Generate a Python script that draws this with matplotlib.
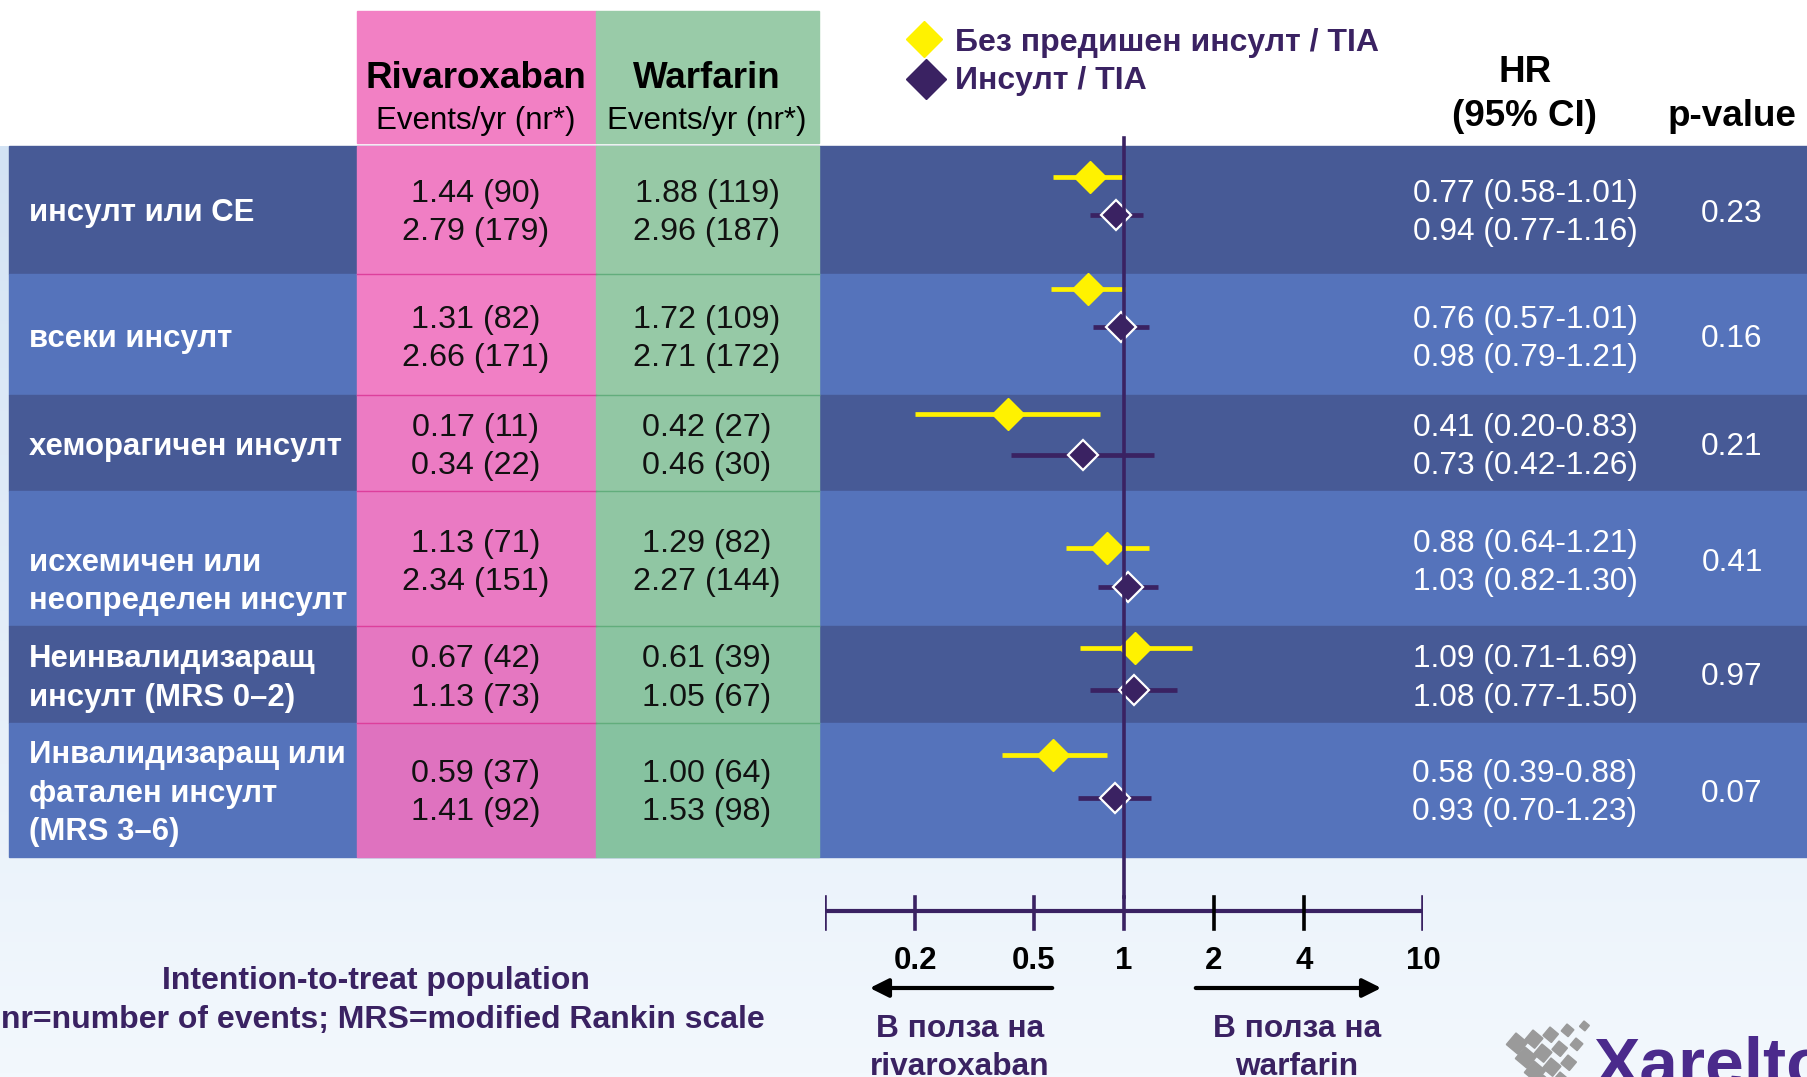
import numpy as np
import matplotlib.pyplot as plt
import matplotlib.colors as mcolors
from matplotlib.patches import Rectangle

plt.rcParams['font.family'] = ['Liberation Sans', 'DejaVu Sans']

# outcomes (table rows)
outcomes = [
    ['инсулт или СЕ'],
    ['всеки инсулт'],
    ['хеморагичен инсулт'],
    ['исхемичен или', 'неопределен инсулт'],
    ['Неинвалидизаращ', 'инсулт (MRS 0–2)'],
    ['Инвалидизаращ или', 'фатален инсулт', '(MRS 3–6)'],
]

# events/yr and number of events, no prior stroke / prior stroke
riva_rate_no = [1.44, 1.31, 0.17, 1.13, 0.67, 0.59]
riva_n_no = [90, 82, 11, 71, 42, 37]
riva_rate_prior = [2.79, 2.66, 0.34, 2.34, 1.13, 1.41]
riva_n_prior = [179, 171, 22, 151, 73, 92]
warf_rate_no = [1.88, 1.72, 0.42, 1.29, 0.61, 1.00]
warf_n_no = [119, 109, 27, 82, 39, 64]
warf_rate_prior = [2.96, 2.71, 0.46, 2.27, 1.05, 1.53]
warf_n_prior = [187, 172, 30, 144, 67, 98]

# hazard ratios with 95% CI
hr_no = [0.77, 0.76, 0.41, 0.88, 1.09, 0.58]
lo_no = [0.58, 0.57, 0.20, 0.64, 0.71, 0.39]
hi_no = [1.01, 1.01, 0.83, 1.21, 1.69, 0.88]
hr_prior = [0.94, 0.98, 0.73, 1.03, 1.08, 0.93]
lo_prior = [0.77, 0.79, 0.42, 0.82, 0.77, 0.70]
hi_prior = [1.16, 1.21, 1.26, 1.30, 1.50, 1.23]
p_values = ['0.23', '0.16', '0.21', '0.41', '0.97', '0.07']

ticks = [0.1, 0.2, 0.5, 1, 2, 4, 10]
tick_labels = ['', '0.2', '0.5', '1', '2', '4', '10']

# layout, in pixels
W, H = 1808, 1077
row_edges = [146, 274, 395, 491, 626, 723, 857]
label_y = [[213], [339], [447], [563, 601], [659, 698], [755, 794, 832]]
value_y = [[194, 232], [320, 358], [428, 466], [544, 582], [659, 698], [774, 812]]
p_y = [214, 339, 447, 563, 677, 794]
mark_y_no = [177, 289, 414, 548, 648, 755]
mark_y_prior = [215, 327, 455, 587, 690, 798]

dark_band, light_band = '#475a96', '#5573bb'
pinks = ['#f07ec4', '#f17fc5', '#ec7bc3', '#ea7ac3', '#e577c1', '#df72bf']
greens = ['#97c9a6', '#96c9a6', '#92c7a4', '#90c6a3', '#8bc4a1', '#86c2a0']
purple = '#3a2262'
yellow = '#fff200'

fig = plt.figure(figsize=(W / 100, H / 100), dpi=100)
fig.patch.set_facecolor('white')
ax = fig.add_axes([0, 0, 1, 1])

# light blue gradient behind the table
c0 = np.array(mcolors.to_rgb('#d3e3f4'))
c1 = np.array(mcolors.to_rgb('#f3f8fd'))
t = np.linspace(0, 1, 256)[:, None, None]
ax.imshow(c0 + (c1 - c0) * t, extent=[0, W, H, 146], aspect='auto', zorder=0)
ax.set_xlim(0, W)
ax.set_ylim(H, 0)
ax.axis('off')

# header cells
ax.add_patch(Rectangle((357, 11), 239, 132, color='#f280c4', zorder=1))
ax.add_patch(Rectangle((596, 11), 223, 132, color='#99cba8', zorder=1))
hdr = dict(ha='center', va='center', color='black', zorder=5)
ax.text(476, 79, 'Rivaroxaban', fontsize=26.5, fontweight='bold', **hdr)
ax.text(476, 121, 'Events/yr (nr*)', fontsize=22.5, **hdr)
ax.text(707, 79, 'Warfarin', fontsize=26.5, fontweight='bold', **hdr)
ax.text(707, 121, 'Events/yr (nr*)', fontsize=22.5, **hdr)
ax.text(1525, 73, 'HR', fontsize=26.5, fontweight='bold', **hdr)
ax.text(1525, 117, '(95% CI)', fontsize=26.5, fontweight='bold', **hdr)
ax.text(1732, 117, 'p-value', fontsize=26.5, fontweight='bold', **hdr)

# legend
ax.plot(924, 39, 'D', ms=18, color=yellow, zorder=5)
ax.plot(926, 79, 'D', ms=20, color=purple, zorder=5)
ax.text(955, 43, 'Без предишен инсулт / TIA', fontsize=23, fontweight='bold',
        color=purple, va='center', zorder=5)
ax.text(955, 81, 'Инсулт / TIA', fontsize=23, fontweight='bold',
        color=purple, va='center', zorder=5)

# table rows
for i in range(len(outcomes)):
    top, bot = row_edges[i], row_edges[i + 1]
    band = dark_band if i % 2 == 0 else light_band
    ax.add_patch(Rectangle((9, top), W - 9, bot - top, color=band, zorder=1))
    ax.add_patch(Rectangle((357, top), 239, bot - top, color=pinks[i], zorder=2))
    ax.add_patch(Rectangle((596, top), 223, bot - top, color=greens[i], zorder=2))
    if i > 0:
        ax.plot([357, 596], [top, top], color='#dd3f9c', lw=1, zorder=3)
        ax.plot([596, 819], [top, top], color='#62ad7c', lw=1, zorder=3)

    for line, y in zip(outcomes[i], label_y[i]):
        ax.text(29, y, line, fontsize=22.4, fontweight='bold', color='white',
                va='center', ha='left', zorder=5)

    y1, y2 = value_y[i]
    cell = dict(fontsize=23.2, color='#111111', ha='center', va='center', zorder=5)
    ax.text(476, y1, f'{riva_rate_no[i]:.2f} ({riva_n_no[i]})', **cell)
    ax.text(476, y2, f'{riva_rate_prior[i]:.2f} ({riva_n_prior[i]})', **cell)
    ax.text(707, y1, f'{warf_rate_no[i]:.2f} ({warf_n_no[i]})', **cell)
    ax.text(707, y2, f'{warf_rate_prior[i]:.2f} ({warf_n_prior[i]})', **cell)

    hr_txt = dict(fontsize=22.8, color='white', ha='center', va='center', zorder=5)
    ax.text(1525, y1, f'{hr_no[i]:.2f} ({lo_no[i]:.2f}-{hi_no[i]:.2f})', **hr_txt)
    ax.text(1525, y2, f'{hr_prior[i]:.2f} ({lo_prior[i]:.2f}-{hi_prior[i]:.2f})', **hr_txt)
    ax.text(1732, p_y[i], p_values[i], **hr_txt)

# forest plot on a log axis, sharing the pixel y-range
fa = fig.add_axes([825 / W, 0, 598 / W, 1])
fa.set_xscale('log')
fa.set_xlim(0.1, 10)
fa.set_ylim(H, 0)
fa.axis('off')

fa.hlines(mark_y_no, lo_no, hi_no, color=yellow, lw=3.4, zorder=3)
fa.plot(hr_no, mark_y_no, 'D', ms=16, color=yellow, lw=0, zorder=4)
fa.hlines(mark_y_prior, lo_prior, hi_prior, color=purple, lw=3.4, zorder=3)
fa.plot(hr_prior, mark_y_prior, 'D', ms=15, color=purple, mec='white', mew=1.6,
        lw=0, zorder=4)

fa.plot([1, 1], [138, 897], color=purple, lw=2.6, zorder=6)
fa.plot([ticks[0], ticks[-1]], [911, 911], color=purple, lw=3, zorder=6,
        solid_capstyle='butt')
for tk, lab in zip(ticks, tick_labels):
    tc = 'black' if tk in (2, 4) else purple
    fa.plot([tk, tk], [897, 929], color=tc, lw=2.6, zorder=6)
    if lab:
        fa.text(tk, 961, lab, fontsize=22.5, fontweight='bold', color='black',
                ha='center', va='center')

# direction arrows and captions
arrow = dict(arrowstyle='-|>', lw=3, color='black', mutation_scale=28)
ax.annotate('', xy=(867, 988), xytext=(1055, 988), arrowprops=arrow, zorder=5)
ax.annotate('', xy=(1384, 988), xytext=(1193, 988), arrowprops=arrow, zorder=5)
cap = dict(fontsize=22.8, fontweight='bold', color=purple, ha='center', va='center')
ax.text(960, 1029, 'В полза на', **cap)
ax.text(960, 1067, 'rivaroxaban', **cap)
ax.text(1297, 1029, 'В полза на', **cap)
ax.text(1297, 1067, 'warfarin', **cap)

# footnotes
foot = dict(fontsize=23, fontweight='bold', color=purple, ha='center', va='center')
ax.text(376, 981, 'Intention-to-treat population', **foot)
ax.text(383, 1020, 'nr=number of events; MRS=modified Rankin scale', **foot)

# brand mark in the corner
for r in range(4):
    for c in range(5 - r):
        s = 15 - 2 * c
        ax.add_patch(Rectangle((1516 + c * 17 + r * 9, 1033 + r * 14 - c * 3), s, s,
                               angle=40, color='#9a9a9a', zorder=5))
ax.text(1593, 1086, 'Xarelto', fontsize=50, fontweight='bold', color='#4b2a8c',
        ha='left', va='baseline', zorder=5)

fig.savefig('out.png', dpi=100)
